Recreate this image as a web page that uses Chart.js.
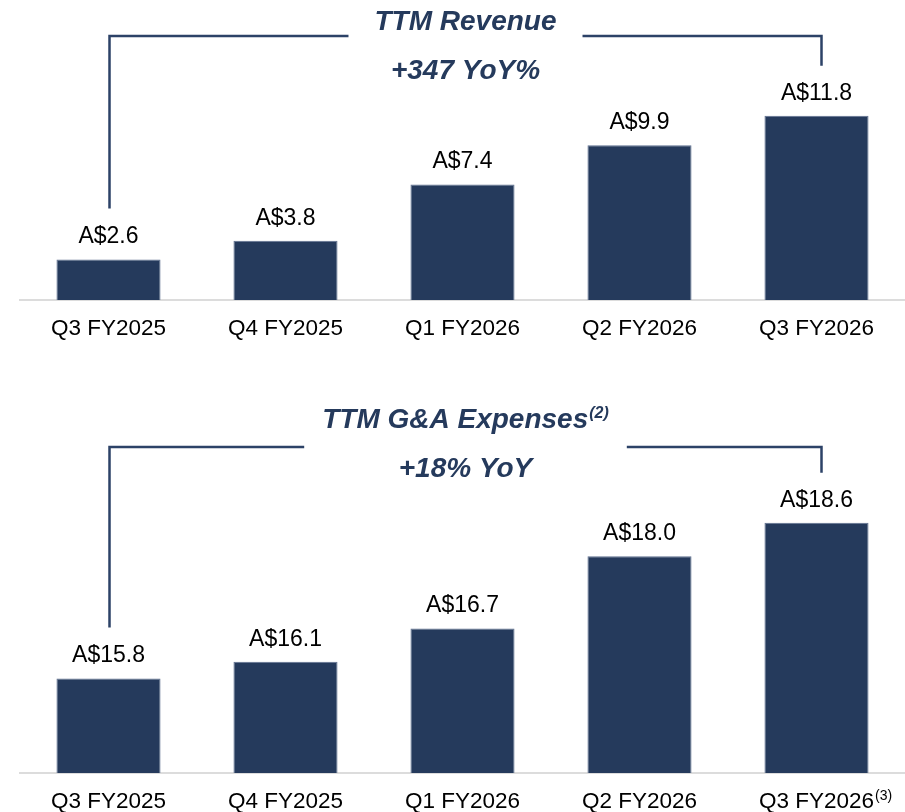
<!DOCTYPE html>
<html>
<head>
<meta charset="utf-8">
<script src="https://cdn.jsdelivr.net/npm/chart.js@4.4.1/dist/chart.umd.min.js"></script>
<style>
  html, body { margin: 0; padding: 0; background: #fff; overflow: hidden; }
  .box { position: absolute; left: 0; width: 905px; }
  #box1 { top: 0; height: 367px; }
  #box2 { top: 380px; height: 450px; }
</style>
</head>
<body>
<div class="box" id="box1"><canvas id="revChart"></canvas></div>
<div class="box" id="box2"><canvas id="gaChart"></canvas></div>
<script>
const quarters = ['Q3 FY2025', 'Q4 FY2025', 'Q1 FY2026', 'Q2 FY2026', 'Q3 FY2026'];
const revenue = [2.6, 3.8, 7.4, 9.9, 11.8];
const gaExpenses = [15.8, 16.1, 16.7, 18.0, 18.6];

const FONT = '"Liberation Sans", Arial, sans-serif';
const NAVY = '#253a5c';
const LINE = '#2c4267';
const TICK_PAD = 15;

// value labels above each bar
const valueLabels = {
  id: 'valueLabels',
  afterDatasetsDraw(chart) {
    const { ctx } = chart;
    const ds = chart.data.datasets[0];
    ctx.save();
    ctx.font = '23px ' + FONT;
    ctx.fillStyle = '#000';
    ctx.textAlign = 'center';
    ctx.textBaseline = 'alphabetic';
    chart.getDatasetMeta(0).data.forEach((bar, i) => {
      ctx.fillText('A$' + ds.data[i].toFixed(1), bar.x, bar.y - 16);
    });
    ctx.restore();
  },
};

// title, growth line and the bracket joining first and last bar
const bracket = {
  id: 'bracket',
  afterDraw(chart, args, opts) {
    const { ctx, chartArea, scales: { x, y } } = chart;
    const data = chart.data.datasets[0].data;
    const cx = (chartArea.left + chartArea.right) / 2 + 3;
    ctx.save();

    ctx.font = 'italic bold 28px ' + FONT;
    const tw = ctx.measureText(opts.title).width;
    ctx.font = 'italic bold 16px ' + FONT;
    const sw = opts.sup ? ctx.measureText(opts.sup).width + 1 : 0;
    const full = tw + sw;
    const tx = cx - full / 2;

    ctx.fillStyle = NAVY;
    ctx.textBaseline = 'alphabetic';
    ctx.textAlign = 'left';
    ctx.font = 'italic bold 28px ' + FONT;
    ctx.fillText(opts.title, tx, opts.titleY);
    if (opts.sup) {
      ctx.font = 'italic bold 16px ' + FONT;
      ctx.fillText(opts.sup, tx + tw + 1, opts.titleY - 10);
    }
    ctx.textAlign = 'center';
    ctx.font = 'italic bold 28px ' + FONT;
    ctx.fillText(opts.subtitle, cx, opts.subY);

    const xl = x.getPixelForValue(0) + 1;
    const xr = x.getPixelForValue(data.length - 1) + 5;
    const yl = y.getPixelForValue(data[0]) - 51;
    const yr = y.getPixelForValue(data[data.length - 1]) - 50;
    ctx.strokeStyle = LINE;
    ctx.lineWidth = 2.5;
    ctx.lineCap = 'butt';
    ctx.lineJoin = 'miter';
    ctx.beginPath();
    ctx.moveTo(xl, yl);
    ctx.lineTo(xl, opts.lineY);
    ctx.lineTo(tx - opts.gap, opts.lineY);
    ctx.moveTo(tx + full + opts.gap, opts.lineY);
    ctx.lineTo(xr, opts.lineY);
    ctx.lineTo(xr, yr);
    ctx.stroke();

    // footnote marker on a tick label
    if (opts.tickSup) {
      ctx.font = '22.5px ' + FONT;
      const lw = ctx.measureText(quarters[quarters.length - 1]).width;
      ctx.font = '14px ' + FONT;
      ctx.fillStyle = '#000';
      ctx.textAlign = 'left';
      const lx = x.getPixelForValue(quarters.length - 1) + lw / 2 + 1;
      ctx.fillText(opts.tickSup, lx, chartArea.bottom + 27);
    }
    ctx.restore();
  },
};

function makeConfig(values, yMin, yMax, padTop, padBottom, bracketOpts) {
  return {
    type: 'bar',
    data: {
      labels: quarters,
      datasets: [{
        data: values,
        backgroundColor: NAVY,
        borderColor: '#5f7090',
        borderWidth: 1,
        barPercentage: 1,
        categoryPercentage: 0.588,
      }],
    },
    options: {
      responsive: true,
      maintainAspectRatio: false,
      animation: false,
      layout: { padding: { left: 20, right: 0, top: padTop, bottom: padBottom } },
      plugins: {
        legend: { display: false },
        tooltip: { enabled: false },
        bracket: bracketOpts,
      },
      scales: {
        x: {
          grid: { display: false, drawTicks: false },
          border: { display: true, color: '#dcdcdc', width: 2 },
          ticks: {
            color: '#000',
            font: { family: FONT, size: 22.5 },
            padding: TICK_PAD,
            maxRotation: 0,
            autoSkip: false,
          },
        },
        y: { display: false, min: yMin, max: yMax },
      },
    },
    plugins: [valueLabels, bracket],
  };
}

const revChart = new Chart(document.getElementById('revChart'),
  makeConfig(revenue, 0, 16, 50, 10, {
    title: 'TTM Revenue',
    sup: '',
    subtitle: '+347 YoY%',
    titleY: 30,
    subY: 79,
    lineY: 36,
    gap: 26,
  }));

const gaChart = new Chart(document.getElementById('gaChart'),
  makeConfig(gaExpenses, 14.1, 20, 65, 0, {
    title: 'TTM G&A Expenses',
    sup: '(2)',
    subtitle: '+18% YoY',
    titleY: 48,
    subY: 97,
    lineY: 67,
    gap: 18,
    tickSup: '(3)',
  }));
</script>
</body>
</html>
